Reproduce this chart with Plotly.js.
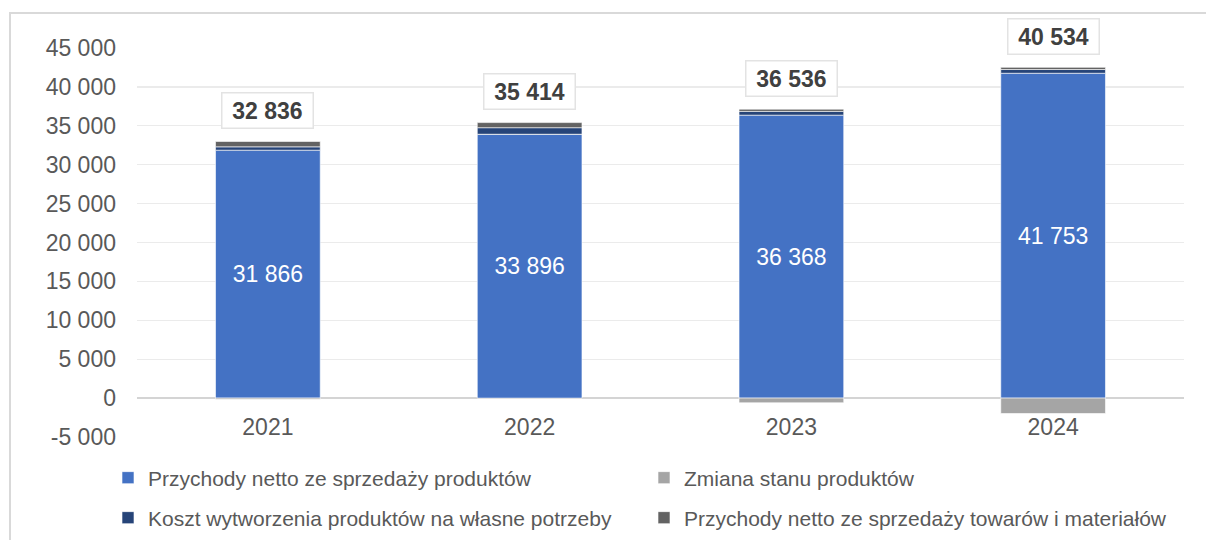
<!DOCTYPE html>
<html>
<head>
<meta charset="utf-8">
<script src="https://cdn.plot.ly/plotly-3.0.1.min.js"></script>
<style>
  html, body { margin: 0; padding: 0; background: #ffffff; }
  #wrap { position: relative; width: 1206px; height: 540px; overflow: hidden; }
  #frame { position: absolute; left: 9px; top: 12px; width: 1400px; height: 700px;
           border-left: 2px solid #d9d9d9; border-top: 2px solid #d9d9d9; }
  #chart { position: absolute; left: 0; top: 0; width: 1206px; height: 540px; }
</style>
</head>
<body>
<div id="wrap">
  <div id="frame"></div>
  <div id="chart"></div>
</div>
<script>
const years = ['2021', '2022', '2023', '2024'];
const przychodyProdukty = [31866, 33896, 36368, 41753];
const zmianaStanu = [-150, 20, -600, -1979];
const kosztWytworzenia = [430, 840, 480, 480];
const przychodyTowary = [690, 658, 288, 280];
const totals = [32836, 35414, 36536, 40534];
const yTickVals = [-5000, 0, 5000, 10000, 15000, 20000, 25000, 30000, 35000, 40000, 45000];
const yTickText = ['-5 000', '0', '5 000', '10 000', '15 000', '20 000', '25 000', '30 000', '35 000', '40 000', '45 000'];

const names = [
  'Przychody netto ze sprzedaży produktów',
  'Zmiana stanu produktów',
  'Koszt wytworzenia produktów na własne potrzeby',
  'Przychody netto ze sprzedaży towarów i materiałów'
];

const fontFam = '"Liberation Sans", Arial, sans-serif';
const lineStyle = { color: '#ffffff', width: 0.6 };

function fmt(n) {
  return String(n).replace(/\B(?=(\d{3})+(?!\d))/g, ' ');
}

const traces = [
  {
    type: 'bar', x: years, y: przychodyProdukty, name: names[0],
    marker: { color: '#4472C4', line: lineStyle },
    texttemplate: '%{y:,.0f}', textposition: 'inside', insidetextanchor: 'middle',
    textangle: 0, constraintext: 'none',
    textfont: { color: '#ffffff', size: 23, family: fontFam },
    legend: 'legend', hoverinfo: 'skip'
  },
  {
    type: 'bar', x: years, y: zmianaStanu, name: names[1],
    marker: { color: '#A5A5A5', line: lineStyle },
    legend: 'legend2', hoverinfo: 'skip'
  },
  {
    type: 'bar', x: years, y: kosztWytworzenia, name: names[2],
    marker: { color: '#264478', line: lineStyle },
    legend: 'legend3', hoverinfo: 'skip'
  },
  {
    type: 'bar', x: years, y: przychodyTowary, name: names[3],
    marker: { color: '#636363', line: lineStyle },
    legend: 'legend4', hoverinfo: 'skip'
  }
];

const stackTop = years.map((_, i) =>
  przychodyProdukty[i] + kosztWytworzenia[i] + przychodyTowary[i] + Math.max(zmianaStanu[i], 0));

const annotations = years.map((yr, i) => ({
  x: i, y: stackTop[i], xref: 'x', yref: 'y',
  text: '<b>' + fmt(totals[i]) + '</b>',
  showarrow: false, yshift: 31, yanchor: 'middle',
  font: { family: fontFam, size: 23, color: '#404040' },
  bgcolor: '#ffffff', bordercolor: '#e3e3e3', borderwidth: 1.5, borderpad: 4,
  width: 82
}));

const legendCommon = {
  orientation: 'h', xanchor: 'left', yanchor: 'middle',
  xref: 'container', yref: 'container',
  bgcolor: 'rgba(0,0,0,0)', borderwidth: 0,
  font: { family: fontFam, size: 21, color: '#595959' }
};

const layout = {
  width: 1206, height: 540,
  margin: { l: 137, r: 22, t: 48, b: 103, pad: 0 },
  paper_bgcolor: 'rgba(0,0,0,0)', plot_bgcolor: 'rgba(0,0,0,0)',
  separators: ', ',
  barmode: 'relative', bargap: 0.6,
  font: { family: fontFam, color: '#595959' },
  xaxis: {
    type: 'category', range: [-0.5, 3.5], showgrid: false, showline: false, zeroline: false,
    ticks: '', anchor: 'free', position: 0.067, automargin: false,
    tickfont: { family: fontFam, size: 23, color: '#595959' }
  },
  yaxis: {
    range: [-5000, 45000], tickvals: yTickVals, ticktext: yTickText, automargin: false,
    showgrid: true, gridcolor: '#ebebeb', gridwidth: 1.3,
    zeroline: true, zerolinecolor: '#d4d4d4', zerolinewidth: 2,
    showline: false, ticks: '', ticklabelstandoff: 20,
    tickfont: { family: fontFam, size: 23, color: '#595959' }
  },
  legend: Object.assign({}, legendCommon, { x: 108 / 1206, y: 1 - 478 / 540 }),
  legend2: Object.assign({}, legendCommon, { x: 644 / 1206, y: 1 - 478 / 540 }),
  legend3: Object.assign({}, legendCommon, { x: 108 / 1206, y: 1 - 518 / 540 }),
  legend4: Object.assign({}, legendCommon, { x: 644 / 1206, y: 1 - 518 / 540 }),
  annotations: annotations,
  showlegend: true
};

Plotly.newPlot('chart', traces, layout, { displayModeBar: false, staticPlot: true });
</script>
</body>
</html>
